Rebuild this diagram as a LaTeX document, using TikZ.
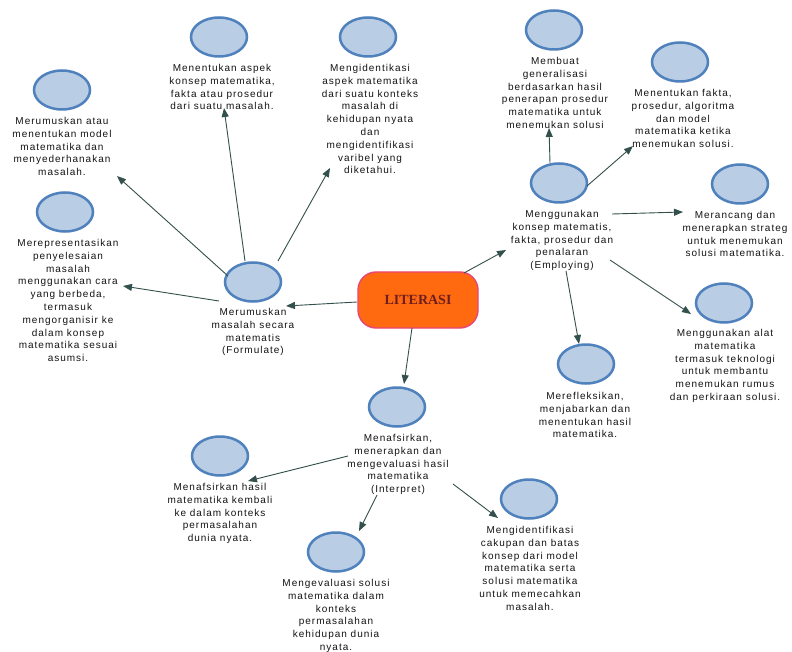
\documentclass[tikz,border=0pt]{standalone}
\usepackage{fontspec}
\setmainfont{Liberation Sans}
\newfontfamily\lblfont[LetterSpace=10]{Liberation Sans}
\newfontfamily\litfont{Liberation Serif}
\usetikzlibrary{arrows.meta,shapes.geometric}
\definecolor{cfill}{HTML}{B9CDE5}
\definecolor{cline}{HTML}{4F81BD}
\definecolor{arrc}{HTML}{34504C}
\definecolor{litfill}{HTML}{FF6A10}
\definecolor{litline}{HTML}{E8457A}
\definecolor{littext}{HTML}{6E1E1E}
\definecolor{txt}{HTML}{141414}
\tikzset{
 circ/.style={ellipse, draw=cline, fill=cfill, line width=2.5pt, minimum width=56pt, minimum height=39pt, inner sep=0},
 lbl/.style={align=center, inner sep=0, anchor=north, text=txt, font=\lblfont\fontsize{10}{12.8}\selectfont},
 arr/.style={draw=arrc, line width=0.9pt, -{Triangle[length=9pt,width=7pt]}},
 litbox/.style={rounded corners=18pt, draw=litline, fill=litfill, line width=1.4pt, minimum width=120pt, minimum height=56pt, font=\litfont\bfseries\fontsize{14}{16}\selectfont, text=littext}
}
\begin{document}
\begin{tikzpicture}[x=1pt,y=-1pt]
\useasboundingbox[fill=white] (0,0) rectangle (792,652);
% circles
\node[circ] (c1) at (62,90) {};
\node[circ] (c2) at (219,37) {};
\node[circ] (c3) at (368,37) {};
\node[circ] (c4) at (65,212) {};
\node[circ] (cF) at (253,282) {};
\node[circ] (cE) at (559,183) {};
\node[circ] (c5) at (554,30) {};
\node[circ] (c6) at (680,62) {};
\node[circ] (c7) at (740,184) {};
\node[circ] (c8) at (724,303) {};
\node[circ] (c9) at (586,364) {};
\node[circ] (cI) at (397,407) {};
\node[circ] (c10) at (220,456) {};
\node[circ] (c11) at (336,552) {};
\node[circ] (c12) at (529,499) {};
% central
\node[litbox] (lit) at (418,300) {LITERASI};
% labels
\node[lbl] (t1) at (62,117) {Merumuskan atau\\menentukan model\\matematika dan\\menyederhanakan\\masalah.};
\node[lbl] (t2) at (222,64) {Menentukan aspek\\konsep matematika,\\fakta atau prosedur\\dari suatu masalah.};
\node[lbl] (t3) at (370,64) {Mengidentikasi\\aspek matematika\\dari suatu konteks\\masalah di\\kehidupan nyata\\dan\\mengidentifikasi\\varibel yang\\diketahui.};
\node[lbl] (t4) at (68,239) {Merepresentasikan\\penyelesaian\\masalah\\menggunakan cara\\yang berbeda,\\termasuk\\mengorganisir ke\\dalam konsep\\matematika sesuai\\asumsi.};
\node[lbl] (tF) at (253,308) {Merumuskan\\masalah secara\\matematis\\(Formulate)};
\node[lbl] (tE) at (562,210) {Menggunakan\\konsep matematis,\\fakta, prosedur dan\\penalaran\\(Employing)};
\node[lbl] (t5) at (555,57) {Membuat\\generalisasi\\berdasarkan hasil\\penerapan prosedur\\matematika untuk\\menemukan solusi};
\node[lbl] (t6) at (683,89) {Menentukan fakta,\\prosedur, algoritma\\dan model\\matematika ketika\\menemukan solusi.};
\node[lbl] (t7) at (735,211) {Merancang dan\\menerapkan strateg\\untuk menemukan\\solusi matematika.};
\node[lbl] (t8) at (725,329) {Menggunakan alat\\matematika\\termasuk teknologi\\untuk membantu\\menemukan rumus\\dan perkiraan solusi.};
\node[lbl] (t9) at (585,392) {Merefleksikan,\\menjabarkan dan\\menentukan hasil\\matematika.};
\node[lbl] (tI) at (398,434) {Menafsirkan,\\menerapkan dan\\mengevaluasi hasil\\matematika\\(Interpret)};
\node[lbl] (t10) at (220,483) {Menafsirkan hasil\\matematika kembali\\ke dalam konteks\\permasalahan\\dunia nyata.};
\node[lbl] (t11) at (336,579) {Mengevaluasi solusi\\matematika dalam\\konteks\\permasalahan\\kehidupan dunia\\nyata.};
\node[lbl] (t12) at (530,526) {Mengidentifikasi\\cakupan dan batas\\konsep dari model\\matematika serta\\solusi matematika\\untuk memecahkan\\masalah.};
% arrow anchor points
\coordinate (sLF) at (357,302); \coordinate (hLF) at (286,306);
\coordinate (sLE) at (464,273); \coordinate (hLE) at (506,250);
\coordinate (sLI) at (412,328); \coordinate (hLI) at (404,384);
\coordinate (sF1) at (228,276); \coordinate (h1) at (117,176);
\coordinate (sF2) at (245,261); \coordinate (h2) at (224,108);
\coordinate (sF3) at (278,261); \coordinate (h3) at (330,168);
\coordinate (sF4) at (219,301); \coordinate (h4) at (123,286);
\coordinate (sE5) at (550,163); \coordinate (h5) at (549,128);
\coordinate (sE6) at (587,186); \coordinate (h6) at (633,146);
\coordinate (sE7) at (612,214); \coordinate (h7) at (683,212);
\coordinate (sE8) at (610,260); \coordinate (h8) at (691,314);
\coordinate (sE9) at (566,271); \coordinate (h9) at (579,344);
\coordinate (sI10) at (348,456); \coordinate (h10) at (248,481);
\coordinate (sI11) at (377,495); \coordinate (h11) at (359,531);
\coordinate (sI12) at (453,484); \coordinate (h12) at (498,518);
% connectors
\draw[arr] (sLF) -- (hLF);
\draw[arr] (sLE) -- (hLE);
\draw[arr] (sLI) -- (hLI);
\draw[arr] (sF1) -- (h1);
\draw[arr] (sF2) -- (h2);
\draw[arr] (sF3) -- (h3);
\draw[arr] (sF4) -- (h4);
\draw[arr] (sE5) -- (h5);
\draw[arr] (sE6) -- (h6);
\draw[arr] (sE7) -- (h7);
\draw[arr] (sE8) -- (h8);
\draw[arr] (sE9) -- (h9);
\draw[arr] (sI10) -- (h10);
\draw[arr] (sI11) -- (h11);
\draw[arr] (sI12) -- (h12);
\end{tikzpicture}
\end{document}
